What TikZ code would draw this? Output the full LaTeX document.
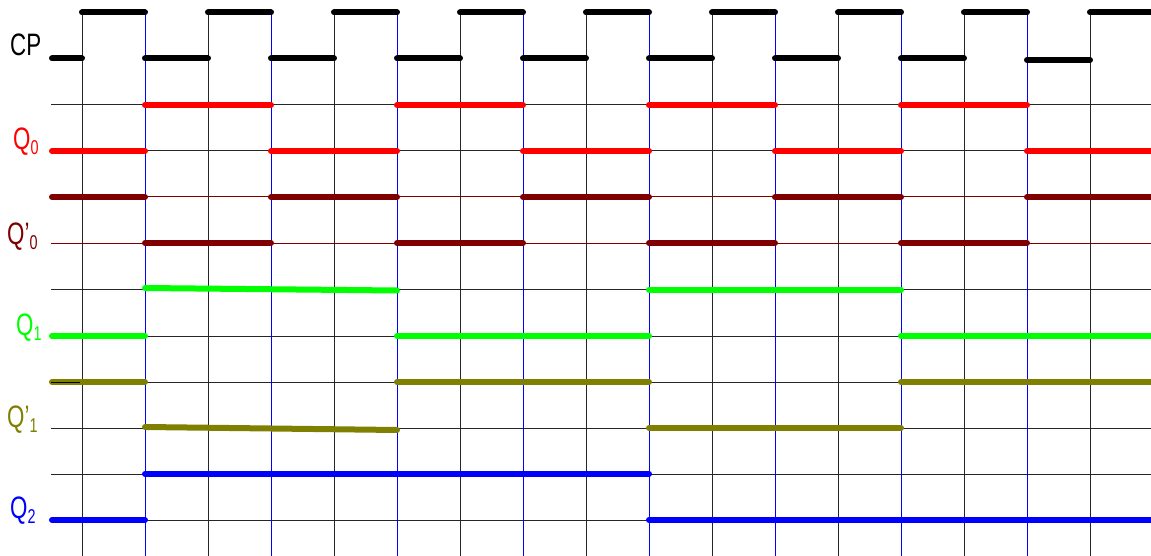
\documentclass[tikz,border=0pt]{standalone}
\usepackage{fontspec}
\setmainfont{Liberation Sans}
\definecolor{mymaroon}{RGB}{128,0,0}
\definecolor{myolive}{RGB}{128,128,0}
\definecolor{mygreen}{RGB}{0,255,0}
\definecolor{myred}{RGB}{255,0,0}
\definecolor{myblue}{RGB}{0,0,255}
\newcommand\narrow[1]{\scalebox{0.72}[1]{#1}}
\newcommand\subs[1]{\raisebox{-5pt}{\fontsize{20}{20}\selectfont #1}}
\begin{document}
\begin{tikzpicture}[x=1pt,y=-1pt,
  gridline/.style={line width=1pt, black!85},
  sig/.style={line width=6pt, line cap=round},
  lbl/.style={anchor=base west, inner sep=0pt, font=\fontsize{31}{31}\selectfont}]
\useasboundingbox (0,0) rectangle (1151,556);
% horizontal thin lines
\foreach \y in {105,151,289.5,336,382,428,474,520}
  \draw[gridline] (51,\y) -- (1155,\y);
\foreach \y in {197,243}
  \draw[line width=1pt, mymaroon] (51,\y) -- (1155,\y);
% vertical thin lines
\foreach \k in {0,2,...,16}
  \draw[gridline] ({82+63*\k},12.5) -- ({82+63*\k},556);
\foreach \k in {1,3,...,15}
  \draw[line width=1pt, myblue] ({82+63*\k},12.5) -- ({82+63*\k},556);
% CP
\foreach \a/\b in {82/145,208/271,334/397,460/523,586/649,712/775,838/901,964/1027,1090/1160}
  \draw[sig, black] (\a,12.5) -- (\b,12.5);
\foreach \a/\b in {52/82,145/208,271/334,397/460,523/586,649/712,775/838,901/964}
  \draw[sig, black] (\a,58.5) -- (\b,58.5);
\draw[sig, black] (1027,60) -- (1090,60);
% Q0
\foreach \a/\b in {145/271,397/523,649/775,901/1027}
  \draw[sig, myred] (\a,105) -- (\b,105);
\foreach \a/\b in {52/145,271/397,523/649,775/901,1027/1160}
  \draw[sig, myred] (\a,151) -- (\b,151);
% Q0'
\foreach \a/\b in {52/145,271/397,523/649,775/901,1027/1160}
  \draw[sig, mymaroon] (\a,197) -- (\b,197);
\foreach \a/\b in {145/271,397/523,649/775,901/1027}
  \draw[sig, mymaroon] (\a,243) -- (\b,243);
% Q1
\draw[sig, mygreen] (145,288) -- (397,290.5);
\draw[sig, mygreen] (649,289.5) -- (901,289.5);
\foreach \a/\b in {52/145,397/649,901/1160}
  \draw[sig, mygreen] (\a,336) -- (\b,336);
% Q1'
\foreach \a/\b in {52/145,397/649,901/1160}
  \draw[sig, myolive] (\a,382) -- (\b,382);
\draw[line width=1pt, black] (51,382) -- (80,382);
\draw[sig, myolive] (145,427) -- (397,430);
\draw[sig, myolive] (649,428) -- (901,428);
% Q2
\draw[sig, myblue] (145,474) -- (649,474);
\foreach \a/\b in {52/145,649/1160}
  \draw[sig, myblue] (\a,520) -- (\b,520);
% labels
\node[lbl, black] (lcp) at (10,56) {\narrow{CP}};
\node[lbl, myred] (lq0) at (13,150) {\narrow{Q\subs{0}}};
\node[lbl, mymaroon] (lq0n) at (7,244) {\narrow{Q’\subs{0}}};
\node[lbl, mygreen] (lq1) at (16,335) {\narrow{Q\subs{1}}};
\node[lbl, myolive] (lq1n) at (7,427) {\narrow{Q’\subs{1}}};
\node[lbl, myblue] (lq2) at (10,518) {\narrow{Q\subs{2}}};
\end{tikzpicture}
\end{document}
